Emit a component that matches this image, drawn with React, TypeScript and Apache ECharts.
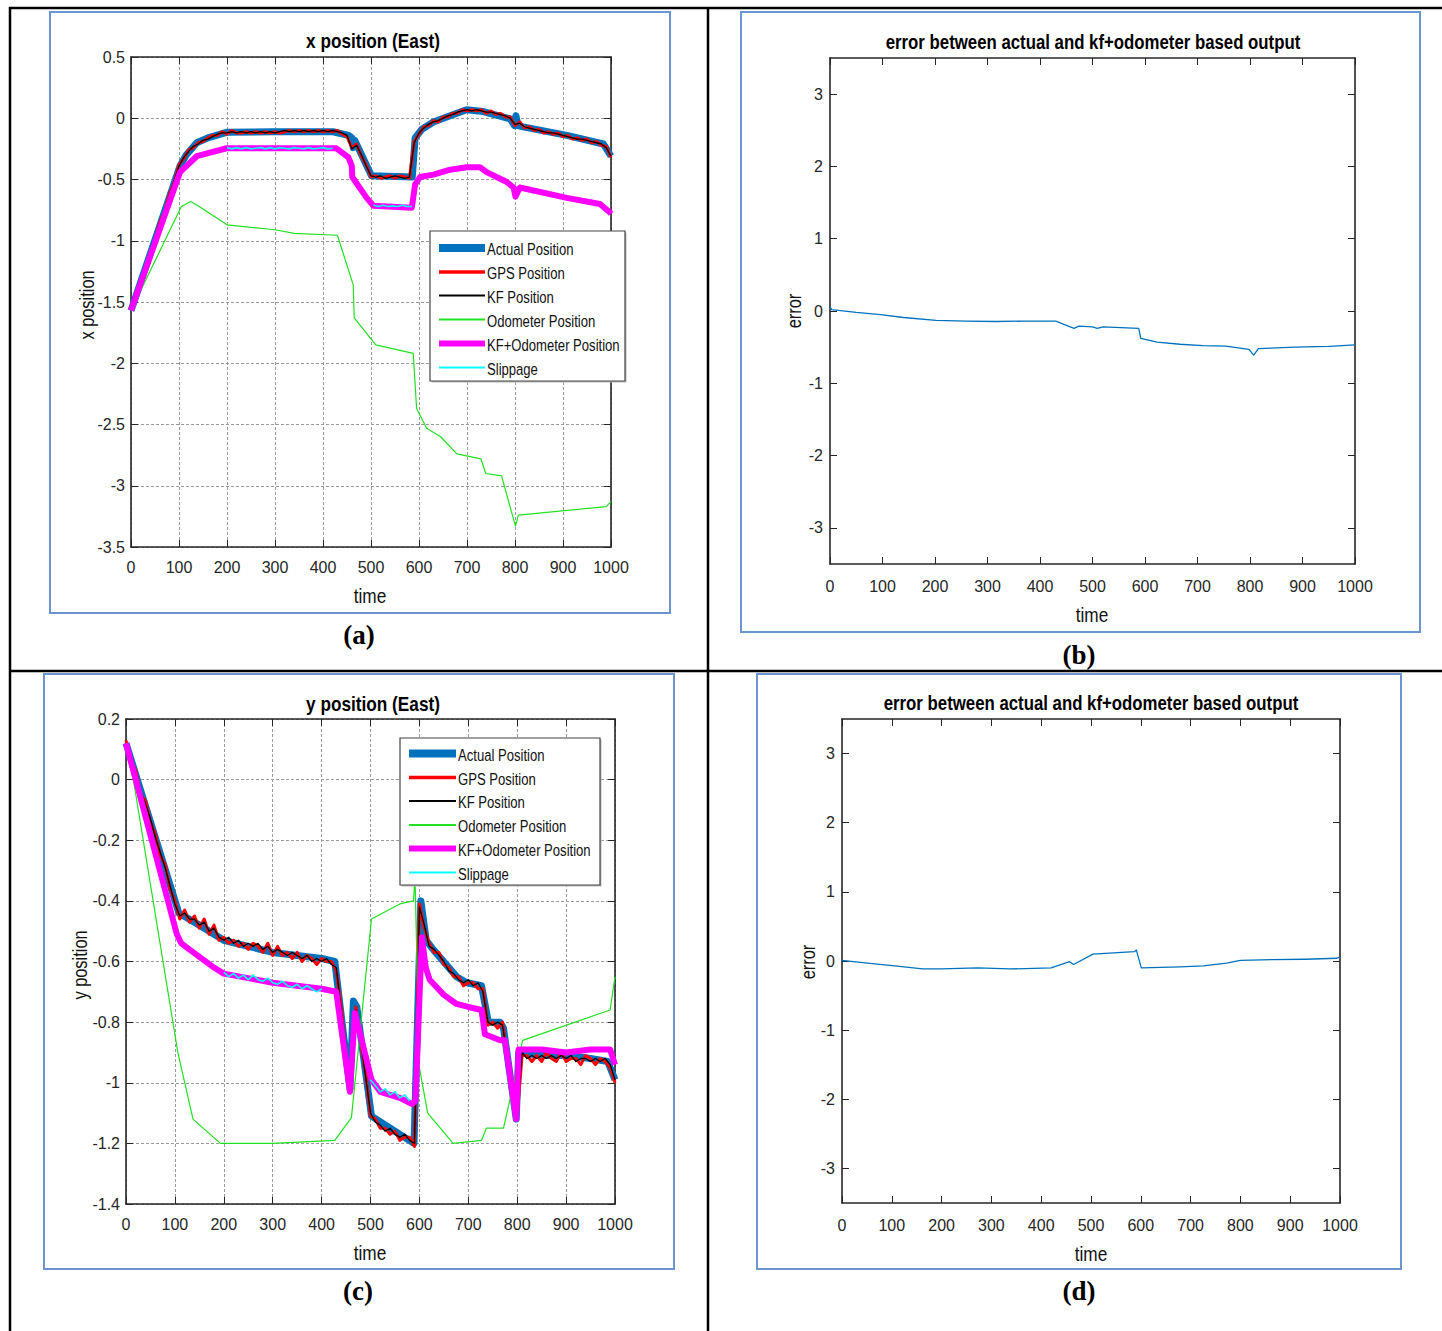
import React, { useEffect, useRef } from "react";
import * as echarts from "echarts";

const SANS = "'Liberation Sans', Arial, sans-serif";
const SERIF = "'Liberation Serif', 'Times New Roman', serif";
const NARROW_SCALE = 0.82;

// ---------- shared time grid for the noisy KF / GPS traces ----------
const kfTimes = [
  0, 10, 20, 30, 40, 50, 60, 70, 80, 90,
  100, 110, 120, 130, 140, 150, 160, 170, 180, 190,
  200, 210, 220, 230, 240, 250, 260, 270, 280, 290,
  300, 310, 320, 330, 340, 350, 360, 370, 380, 390,
  400, 410, 420, 430, 440, 450, 460, 470, 480, 490,
  500, 510, 520, 530, 540, 550, 560, 570, 580, 590,
  600, 610, 620, 630, 640, 650, 660, 670, 680, 690,
  700, 710, 720, 730, 740, 750, 760, 770, 780, 790,
  800, 810, 820, 830, 840, 850, 860, 870, 880, 890,
  900, 910, 920, 930, 940, 950, 960, 970, 980, 990,
  1000,
];

// ---------- (a) x position ----------
const aActualT = [0, 102, 115, 137, 160, 199, 297, 421, 453, 460, 463, 466, 501, 586, 592, 606, 630, 665, 699, 734, 790, 799, 802, 806, 817, 908, 984, 1000];
const aActualV = [-1.57, -0.39, -0.3, -0.2, -0.16, -0.115, -0.11, -0.11, -0.14, -0.16, -0.24, -0.18, -0.47, -0.48, -0.16, -0.09, -0.03, 0.02, 0.07, 0.055, -0.005, -0.06, 0.02, -0.06, -0.07, -0.14, -0.21, -0.31];
const aGps = [
  -1.56, -1.46, -1.33, -1.23, -1.09, -0.99, -0.85, -0.76, -0.62, -0.52,
  -0.38, -0.33, -0.26, -0.24, -0.2, -0.19, -0.16, -0.14, -0.14, -0.11,
  -0.13, -0.1, -0.12, -0.12, -0.11, -0.12, -0.11, -0.12, -0.11, -0.12,
  -0.11, -0.12, -0.11, -0.1, -0.11, -0.1, -0.11, -0.1, -0.11, -0.1,
  -0.11, -0.1, -0.11, -0.1, -0.13, -0.15, -0.24, -0.21, -0.31, -0.38,
  -0.48, -0.47, -0.49, -0.48, -0.47, -0.49, -0.47, -0.48, -0.49, -0.19,
  -0.13, -0.07, -0.06, -0.02, -0.03, 0.01, 0.01, 0.04, 0.04, 0.07,
  0.06, 0.07, 0.06, 0.07, 0.04, 0.06, 0.03, 0.04, 0.01, 0.01,
  -0.06, -0.03, -0.08, -0.07, -0.1, -0.09, -0.12, -0.11, -0.13, -0.12,
  -0.15, -0.14, -0.17, -0.16, -0.18, -0.17, -0.2, -0.19, -0.22, -0.23,
  -0.32,
];
const aKf = [
  -1.57, -1.45, -1.34, -1.22, -1.1, -0.98, -0.86, -0.75, -0.63, -0.51,
  -0.39, -0.32, -0.27, -0.23, -0.21, -0.18, -0.17, -0.15, -0.13, -0.12,
  -0.12, -0.11, -0.12, -0.11, -0.12, -0.11, -0.12, -0.11, -0.12, -0.11,
  -0.12, -0.11, -0.1, -0.11, -0.1, -0.11, -0.1, -0.11, -0.1, -0.11,
  -0.1, -0.11, -0.1, -0.11, -0.12, -0.14, -0.25, -0.22, -0.3, -0.39,
  -0.47, -0.48, -0.47, -0.49, -0.48, -0.47, -0.48, -0.49, -0.48, -0.2,
  -0.12, -0.08, -0.05, -0.03, -0.02, 0.0, 0.02, 0.03, 0.05, 0.06,
  0.07, 0.06, 0.07, 0.06, 0.05, 0.05, 0.04, 0.03, 0.02, 0.0,
  -0.05, -0.04, -0.07, -0.08, -0.09, -0.1, -0.11, -0.12, -0.12, -0.13,
  -0.14, -0.15, -0.16, -0.17, -0.17, -0.18, -0.19, -0.2, -0.21, -0.24,
  -0.31,
];
const aOdoT = [0, 105, 124, 138, 200, 300, 340, 430, 463, 465, 510, 588, 595, 616, 645, 679, 729, 739, 772, 801, 807, 990, 1000];
const aOdoV = [-1.57, -0.72, -0.68, -0.71, -0.87, -0.91, -0.94, -0.955, -1.36, -1.63, -1.85, -1.92, -2.37, -2.53, -2.6, -2.74, -2.78, -2.9, -2.92, -3.33, -3.24, -3.17, -3.13];
const aKfoT = [0, 102, 137, 199, 300, 428, 453, 460, 461, 491, 505, 585, 592, 602, 630, 665, 699, 727, 741, 783, 797, 801, 810, 908, 977, 998, 1000];
const aKfoV = [-1.57, -0.44, -0.31, -0.245, -0.245, -0.245, -0.32, -0.39, -0.48, -0.65, -0.715, -0.73, -0.54, -0.48, -0.46, -0.42, -0.4, -0.4, -0.44, -0.52, -0.565, -0.64, -0.565, -0.65, -0.7, -0.77, -0.78];
const aSlipT = [200, 210, 220, 230, 240, 250, 260, 270, 280, 290, 300, 310, 320, 330, 340, 350, 360, 370, 380, 390, 400, 410, 420, 460, 505, 515, 525, 535, 545, 555, 565, 575, 585];
const aSlipV = [-0.24, -0.25, -0.24, -0.25, -0.24, -0.25, -0.245, -0.24, -0.25, -0.24, -0.25, -0.24, -0.245, -0.25, -0.24, -0.245, -0.25, -0.24, -0.25, -0.245, -0.24, -0.25, -0.245, null, -0.71, -0.72, -0.71, -0.72, -0.715, -0.72, -0.71, -0.72, -0.72];

// ---------- (c) y position ----------
const cActualT = [0, 108, 150, 200, 250, 300, 350, 400, 427, 458, 465, 472, 502, 550, 589, 603, 614, 628, 676, 697, 727, 741, 765, 772, 798, 803, 850, 900, 950, 985, 995, 1000];
const cActualV = [0.12, -0.44, -0.48, -0.53, -0.55, -0.57, -0.58, -0.59, -0.6, -1.02, -0.73, -0.75, -1.11, -1.16, -1.2, -0.4, -0.53, -0.56, -0.65, -0.67, -0.68, -0.8, -0.8, -0.82, -1.12, -0.9, -0.91, -0.91, -0.92, -0.93, -0.97, -0.99];
const cGps = [
  0.13, 0.06, 0.03, -0.05, -0.07, -0.14, -0.18, -0.25, -0.28, -0.36,
  -0.4, -0.46, -0.43, -0.47, -0.45, -0.49, -0.46, -0.51, -0.48, -0.53,
  -0.52, -0.54, -0.53, -0.55, -0.54, -0.56, -0.54, -0.55, -0.57, -0.54,
  -0.58, -0.55, -0.58, -0.57, -0.59, -0.57, -0.6, -0.58, -0.59, -0.61,
  -0.59, -0.6, -0.6, -0.63, -0.75, -0.91, -1.01, -0.75, -0.87, -0.97,
  -1.11, -1.12, -1.15, -1.15, -1.17, -1.16, -1.19, -1.18, -1.18, -1.21,
  -0.41, -0.49, -0.54, -0.57, -0.57, -0.61, -0.62, -0.65, -0.65, -0.68,
  -0.67, -0.67, -0.69, -0.69, -0.81, -0.8, -0.82, -0.8, -0.93, -1.04,
  -1.11, -0.91, -0.91, -0.93, -0.91, -0.93, -0.9, -0.92, -0.93, -0.9,
  -0.93, -0.92, -0.92, -0.94, -0.91, -0.92, -0.94, -0.92, -0.93, -0.95,
  -1.0,
];
const cKf = [
  0.12, 0.07, 0.02, -0.04, -0.08, -0.13, -0.19, -0.24, -0.29, -0.35,
  -0.41, -0.45, -0.44, -0.46, -0.46, -0.48, -0.47, -0.5, -0.49, -0.52,
  -0.53, -0.52, -0.54, -0.53, -0.55, -0.54, -0.55, -0.54, -0.56, -0.55,
  -0.57, -0.56, -0.57, -0.58, -0.57, -0.58, -0.59, -0.58, -0.6, -0.59,
  -0.6, -0.59, -0.61, -0.62, -0.76, -0.9, -1.02, -0.76, -0.86, -0.98,
  -1.1, -1.13, -1.14, -1.16, -1.15, -1.17, -1.18, -1.17, -1.19, -1.2,
  -0.42, -0.48, -0.55, -0.56, -0.58, -0.6, -0.63, -0.64, -0.66, -0.67,
  -0.66, -0.68, -0.67, -0.7, -0.8, -0.81, -0.8, -0.81, -0.92, -1.05,
  -1.1, -0.9, -0.92, -0.91, -0.92, -0.91, -0.92, -0.91, -0.92, -0.91,
  -0.92, -0.91, -0.93, -0.92, -0.92, -0.93, -0.92, -0.93, -0.92, -0.94,
  -0.99,
];
const cOdoT = [0, 11, 106, 137, 193, 300, 427, 461, 502, 560, 588, 591, 600, 617, 669, 727, 737, 772, 793, 811, 990, 1000];
const cOdoV = [0.12, 0.04, -0.9, -1.12, -1.2, -1.2, -1.19, -1.115, -0.46, -0.41, -0.4, -0.32, -0.95, -1.1, -1.2, -1.19, -1.15, -1.15, -1.0, -0.86, -0.76, -0.65];
const cKfoT = [0, 104, 113, 146, 180, 200, 250, 300, 350, 400, 430, 458, 468, 476, 502, 520, 560, 585, 592, 605, 613, 621, 650, 676, 700, 727, 734, 765, 775, 798, 803, 850, 900, 950, 990, 1000];
const cKfoV = [0.12, -0.51, -0.54, -0.58, -0.62, -0.64, -0.655, -0.67, -0.68, -0.69, -0.7, -1.03, -0.77, -0.82, -0.99, -1.03, -1.05, -1.07, -1.06, -0.52, -0.62, -0.66, -0.71, -0.74, -0.75, -0.76, -0.84, -0.86, -0.86, -1.12, -0.89, -0.89, -0.9, -0.89, -0.89, -0.94];
const cSlipT = [200, 210, 220, 230, 240, 250, 260, 270, 280, 290, 300, 310, 320, 330, 340, 350, 360, 370, 380, 390, 400, 450, 500, 510, 520, 530, 540, 550, 560, 570, 580];
const cSlipV = [-0.635, -0.65, -0.64, -0.655, -0.645, -0.66, -0.645, -0.66, -0.665, -0.655, -0.67, -0.675, -0.665, -0.68, -0.685, -0.675, -0.69, -0.68, -0.69, -0.7, -0.69, null, -0.99, -1.01, -1.03, -1.02, -1.04, -1.03, -1.05, -1.04, -1.06];

// ---------- (b) and (d) errors ----------
const bT = [0, 3, 50, 96, 140, 202, 260, 316, 370, 430, 465, 474, 500, 509, 520, 588, 592, 623, 667, 710, 754, 798, 807, 816, 886, 950, 1000];
const bV = [0.06, 0.02, -0.02, -0.05, -0.09, -0.13, -0.14, -0.145, -0.14, -0.14, -0.24, -0.21, -0.22, -0.24, -0.22, -0.24, -0.38, -0.43, -0.46, -0.48, -0.485, -0.53, -0.61, -0.52, -0.5, -0.49, -0.47];
const dT = [0, 51, 106, 162, 199, 273, 337, 420, 457, 465, 504, 587, 591, 601, 679, 725, 772, 800, 864, 930, 994, 1000];
const dV = [0.01, -0.03, -0.07, -0.115, -0.115, -0.1, -0.115, -0.1, -0.01, -0.05, 0.1, 0.135, 0.16, -0.1, -0.085, -0.07, -0.03, 0.01, 0.02, 0.025, 0.04, 0.06];

// ---------- labels ----------
const legendNames = ["Actual Position", "GPS Position", "KF Position", "Odometer Position", "KF+Odometer Position", "Slippage"];
const errorTicks = [-3, -2, -1, 0, 1, 2, 3];

const C_ACT = "#0072BD";
const C_GPS = "#FF0000";
const C_KF = "#000000";
const C_ODO = "#22E022";
const C_KFO = "#FF00FF";
const C_SLIP = "#00FFFF";
const legendStyles = [
  { color: C_ACT, w: 8 },
  { color: C_GPS, w: 3.5 },
  { color: C_KF, w: 2 },
  { color: C_ODO, w: 2 },
  { color: C_KFO, w: 6 },
  { color: C_SLIP, w: 2 },
];

function pairs(t: number[], v: (number | null)[]) {
  return t.map((x, i) => [x, v[i] === null ? "-" : v[i]]);
}

const AXC = "#262626";
const fmt = (v: number) => String(parseFloat(Number(v).toFixed(3)));

function axesFor(k: number, yMin: number, yMax: number, yInt: number | null, grid: boolean, xMargin: number, yMargin: number, labelSize: number) {
  const tickStyle = { color: AXC, width: 1 };
  const lineStyle = { color: AXC, width: 1.6 };
  const split = { show: grid, lineStyle: { color: "#9a9a9a", width: 1, type: [3, 2] as any } };
  const lbl = { color: AXC, fontSize: labelSize, fontFamily: SANS, formatter: fmt };
  const yTick: any = { show: true, inside: true, length: 7, lineStyle: tickStyle };
  const yLab: any = { ...lbl, margin: yMargin };
  const yBase: any = { gridIndex: k, type: "value", min: yMin, max: yMax };
  if (yInt !== null) yBase.interval = yInt;
  else {
    yTick.customValues = errorTicks;
    yLab.customValues = errorTicks;
  }
  const xBase: any = { gridIndex: k, type: "value", min: 0, max: 1000, interval: 100 };
  const xs = [
    { ...xBase, position: "bottom", axisLine: { show: true, onZero: false, lineStyle }, axisTick: { show: true, inside: true, length: 7, lineStyle: tickStyle }, axisLabel: { ...lbl, margin: xMargin }, splitLine: split },
    { ...xBase, position: "top", axisLine: { show: true, onZero: false, lineStyle }, axisTick: { show: true, inside: true, length: 7, lineStyle: tickStyle }, axisLabel: { show: false }, splitLine: { show: false } },
  ];
  const ys = [
    { ...yBase, position: "left", axisLine: { show: true, onZero: false, lineStyle }, axisTick: yTick, axisLabel: yLab, splitLine: split },
    { ...yBase, position: "right", axisLine: { show: true, onZero: false, lineStyle }, axisTick: { ...yTick }, axisLabel: { show: false }, splitLine: { show: false } },
  ];
  return { xs, ys };
}

function ln(name: string, data: any[], k: number, color: string, width: number) {
  return {
    type: "line",
    name,
    data,
    xAxisIndex: 2 * k,
    yAxisIndex: 2 * k,
    showSymbol: false,
    symbol: "none",
    silent: true,
    connectNulls: false,
    lineStyle: { color, width, join: "round", cap: "butt" },
    itemStyle: { color },
    emphasis: { disabled: true },
  };
}

function txt(x: number, y: number, text: string, size: number, opts: any = {}) {
  return {
    type: "text",
    x,
    y,
    rotation: opts.rotation || 0,
    scaleX: opts.scaleX || 1,
    z: 100,
    silent: true,
    style: {
      text,
      fill: opts.fill || "#111",
      fontSize: size,
      fontFamily: opts.family || SANS,
      fontWeight: opts.weight || "normal",
      align: opts.align || "center",
      verticalAlign: "middle",
    },
  };
}

function hline(x1: number, y1: number, x2: number, y2: number, color: string, w: number, z = 50) {
  return { type: "line", z, silent: true, shape: { x1, y1, x2, y2 }, style: { stroke: color, lineWidth: w } };
}

function frame(x: number, y: number, w: number, h: number) {
  return { type: "rect", z: 1, silent: true, shape: { x, y, width: w, height: h }, style: { fill: "none", stroke: "#6a95cf", lineWidth: 2 } };
}

function legend(bx: number, by: number, bw: number, bh: number, rows: number[], lx0: number, lx1: number, tx: number) {
  const els: any[] = [
    { type: "rect", z: 110, silent: true, shape: { x: bx + 1.5, y: by + 1.5, width: bw, height: bh }, style: { fill: "#bbb", stroke: "none" } },
    { type: "rect", z: 111, silent: true, shape: { x: bx, y: by, width: bw, height: bh }, style: { fill: "#fff", stroke: "#444", lineWidth: 1.2 } },
  ];
  legendNames.forEach((n, i) => {
    els.push({ type: "line", z: 112, silent: true, shape: { x1: lx0, y1: rows[i], x2: lx1, y2: rows[i] }, style: { stroke: legendStyles[i].color, lineWidth: legendStyles[i].w } });
    els.push({ ...txt(tx, rows[i] + 1, n, 17, { align: "left", scaleX: 0.77 }), z: 113 });
  });
  return els;
}

export default function App() {
  const ref = useRef<HTMLDivElement>(null);
  useEffect(() => {
    if (!ref.current) return;
    const chart = echarts.init(ref.current, undefined, { renderer: "svg" });
    const A = axesFor(0, -3.5, 0.5, 0.5, true, 12, 6, 16);
    const B = axesFor(1, -3.5, 3.5, null, false, 14, 7, 16);
    const Cc = axesFor(2, -1.4, 0.2, 0.2, true, 12, 6, 16);
    const D = axesFor(3, -3.5, 3.5, null, false, 14, 7, 16);

    const series: any[] = [
      ln("Actual Position", pairs(aActualT, aActualV), 0, C_ACT, 7),
      ln("GPS Position", pairs(kfTimes, aGps), 0, C_GPS, 3),
      ln("KF Position", pairs(kfTimes, aKf), 0, C_KF, 1.3),
      ln("Odometer Position", pairs(aOdoT, aOdoV), 0, C_ODO, 1.2),
      ln("KF+Odometer Position", pairs(aKfoT, aKfoV), 0, C_KFO, 6),
      ln("Slippage", pairs(aSlipT, aSlipV), 0, C_SLIP, 1.6),

      ln("error b", pairs(bT, bV), 1, C_ACT, 1.3),

      ln("Actual Position", pairs(cActualT, cActualV), 2, C_ACT, 7),
      ln("GPS Position", pairs(kfTimes, cGps), 2, C_GPS, 3),
      ln("KF Position", pairs(kfTimes, cKf), 2, C_KF, 1.3),
      ln("Odometer Position", pairs(cOdoT, cOdoV), 2, C_ODO, 1.2),
      ln("KF+Odometer Position", pairs(cKfoT, cKfoV), 2, C_KFO, 6),
      ln("Slippage", pairs(cSlipT, cSlipV), 2, C_SLIP, 1.6),

      ln("error d", pairs(dT, dV), 3, C_ACT, 1.3),
    ];

    const S = NARROW_SCALE;
    const graphics: any[] = [
      // table rules
      hline(9, 8, 1442, 8, "#000", 2.5),
      hline(10, 7, 10, 1331, "#000", 2.5),
      hline(708, 7, 708, 1331, "#000", 2.5),
      hline(9, 671, 1442, 671, "#000", 2.5),
      // panel frames
      frame(50, 12, 620, 601),
      frame(741, 12, 679, 620),
      frame(44, 674, 630, 595),
      frame(757, 674, 644, 595),
      // titles
      txt(373, 41, "x position (East)", 21, { weight: "bold", scaleX: S, fill: "#000" }),
      txt(1093, 42, "error between actual and kf+odometer based output", 21, { weight: "bold", scaleX: 0.8, fill: "#000" }),
      txt(373, 704, "y position (East)", 21, { weight: "bold", scaleX: S, fill: "#000" }),
      txt(1091, 703, "error between actual and kf+odometer based output", 21, { weight: "bold", scaleX: 0.8, fill: "#000" }),
      // axis names
      txt(370, 596, "time", 21, { scaleX: S }),
      txt(87, 305, "x position", 20, { rotation: Math.PI / 2, scaleX: S }),
      txt(1092, 615, "time", 21, { scaleX: S }),
      txt(794, 311, "error", 20, { rotation: Math.PI / 2, scaleX: S }),
      txt(370, 1253, "time", 21, { scaleX: S }),
      txt(80, 965, "y position", 20, { rotation: Math.PI / 2, scaleX: S }),
      txt(1091, 1254, "time", 21, { scaleX: S }),
      txt(808, 962, "error", 20, { rotation: Math.PI / 2, scaleX: S }),
      // captions
      txt(359, 635, "(a)", 27, { weight: "bold", family: SERIF, fill: "#000" }),
      txt(1079, 655, "(b)", 27, { weight: "bold", family: SERIF, fill: "#000" }),
      txt(358, 1291, "(c)", 27, { weight: "bold", family: SERIF, fill: "#000" }),
      txt(1079, 1291, "(d)", 27, { weight: "bold", family: SERIF, fill: "#000" }),
      // legends
      ...legend(430, 231, 195, 150, [248, 272, 295.5, 319.5, 343.5, 367.5], 439, 485, 487),
      ...legend(400, 738, 200, 147, [753.5, 777.5, 801, 825, 848.5, 872.5], 409, 456, 458),
    ];

    chart.setOption({
      animation: false,
      backgroundColor: "#ffffff",
      textStyle: { fontFamily: SANS },
      grid: [
        { left: 131, top: 57, width: 480, height: 490, outerBoundsMode: "none", containLabel: false },
        { left: 830, top: 58, width: 525, height: 506, outerBoundsMode: "none", containLabel: false },
        { left: 126, top: 719, width: 489, height: 485, outerBoundsMode: "none", containLabel: false },
        { left: 842, top: 719, width: 498, height: 484, outerBoundsMode: "none", containLabel: false },
      ],
      xAxis: [...A.xs, ...B.xs, ...Cc.xs, ...D.xs],
      yAxis: [...A.ys, ...B.ys, ...Cc.ys, ...D.ys],
      series,
      graphic: { elements: graphics },
    });
    return () => chart.dispose();
  }, []);
  return (
    <div
      ref={ref}
      style={{ position: "absolute", left: 0, top: 0, width: 1442, height: 1331, background: "#fff" }}
    />
  );
}
